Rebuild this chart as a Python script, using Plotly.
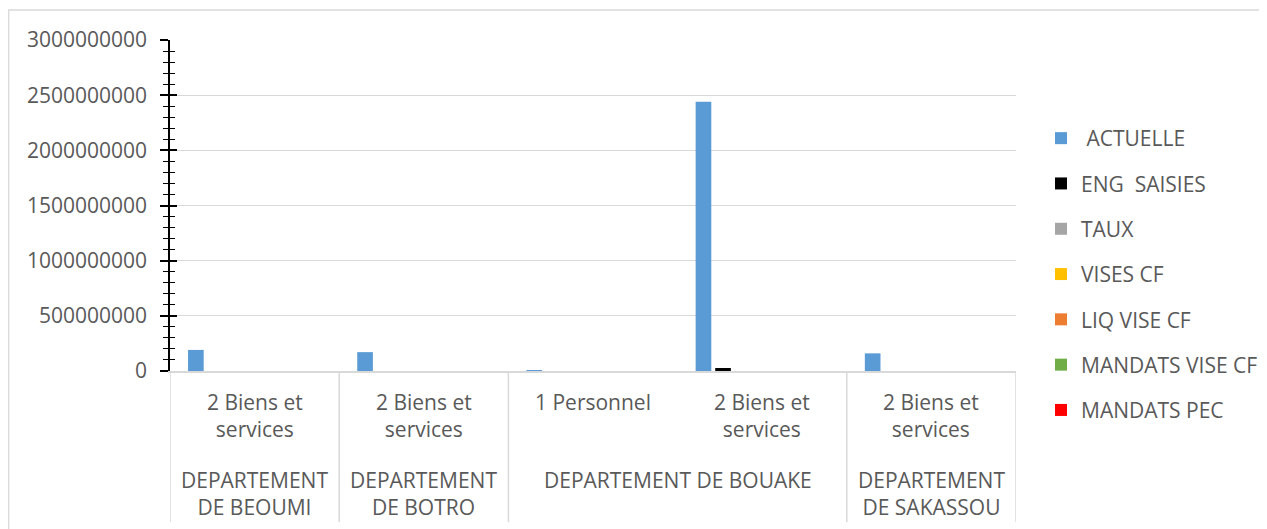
import plotly.graph_objects as go

# ---------------- data ----------------
nature_labels = ["2 Biens et<br>services", "2 Biens et<br>services", "1 Personnel",
                 "2 Biens et<br>services", "2 Biens et<br>services"]
dept_labels = ["DEPARTEMENT<br>DE BEOUMI", "DEPARTEMENT<br>DE BOTRO",
               "DEPARTEMENT DE BOUAKE", "DEPARTEMENT<br>DE SAKASSOU"]
dept_spans = [(0, 0), (1, 1), (2, 3), (4, 4)]  # category index range of each department

series_names = [" ACTUELLE", "ENG  SAISIES", "TAUX", "VISES CF", "LIQ VISE CF",
                "MANDATS VISE CF", "MANDATS PEC"]
actuelle = [191000000, 171000000, 9000000, 2441000000, 160000000]
eng_saisies = [0, 0, 0, 27000000, 0]
taux = [0, 0, 0, 0, 0]
vises_cf = [0, 0, 0, 0, 0]
liq_vise_cf = [0, 0, 0, 0, 0]
mandats_vise_cf = [0, 0, 0, 0, 0]
mandats_pec = [0, 0, 0, 0, 0]
series_values = [actuelle, eng_saisies, taux, vises_cf, liq_vise_cf, mandats_vise_cf, mandats_pec]
colors = ["#5B9BD5", "#000000", "#A5A5A5", "#FFC000", "#ED7D31", "#70AD47", "#FF0000"]

y_max = 3000000000
y_major = 500000000
y_minor = 100000000

# ---------------- figure ----------------
W, H = 1267, 529
OFF = 8                      # page body margin in the browser
L, R, T, B = 170, 1016, 40, 371   # plot area in screen pixels
FONT = "Open Sans"
FS = 21
TXT = "#595959"
GRID = "#D9D9D9"

def px_x(px):
    return (px - L) / (R - L)

def px_y(py):
    return (B - py) / (B - T)

cats = list(range(len(nature_labels)))
fig = go.Figure()
for i, (name, vals, col) in enumerate(zip(series_names, series_values, colors)):
    fig.add_trace(go.Bar(x=cats, y=vals, name=name, marker=dict(color=col, line_width=0),
                         legendgroup=f"g{i}"))

fig.update_layout(
    width=W - OFF, height=H - OFF,
    margin=dict(l=L - OFF, r=W - R, t=T - OFF, b=H - B, pad=0, autoexpand=False),
    paper_bgcolor="white", plot_bgcolor="white",
    barmode="group", bargap=0.19, bargroupgap=0.2,
    font=dict(family=FONT, size=FS, color=TXT),
    showlegend=True,
    legend=dict(x=px_x(1041), y=px_y(118), xanchor="left", yanchor="top",
                font=dict(family=FONT, size=FS, color=TXT),
                tracegroupgap=15, bgcolor="rgba(0,0,0,0)", traceorder="grouped"),
    xaxis=dict(range=[-0.5, len(cats) - 0.5], showticklabels=False, ticks="",
               showgrid=False, zeroline=False, showline=True, linecolor=GRID, linewidth=1.5,
               fixedrange=True),
    yaxis=dict(range=[0, y_max], dtick=y_major, tick0=0, showgrid=True, gridcolor=GRID,
               gridwidth=1.3, zeroline=False, showline=True, linecolor="black", linewidth=1.6,
               ticks="outside", ticklen=8, tickwidth=1.5, tickcolor="black",
               tickformat="d", ticklabelstandoff=9,
               tickfont=dict(family=FONT, size=FS, color=TXT),
               minor=dict(dtick=y_minor, ticks="outside", ticklen=5, tickwidth=1.3,
                          tickcolor="black", showgrid=False)),
    yaxis2=dict(range=[0, y_max], overlaying="y", side="left", dtick=y_major, tick0=0,
                showgrid=False, zeroline=False, showline=False, showticklabels=False,
                ticks="inside", ticklen=7, tickwidth=1.5, tickcolor="black",
                minor=dict(dtick=y_minor, ticks="inside", ticklen=5, tickwidth=1.3,
                           tickcolor="black", showgrid=False)),
)

# empty trace so that the overlay axis (crossing ticks) is drawn
fig.add_trace(go.Scatter(x=[], y=[], yaxis="y2", showlegend=False, hoverinfo="skip"))

shapes = []
# outer chart frame (partly cut by the window)
shapes.append(dict(type="rect", xref="paper", yref="paper", x0=px_x(8.7), x1=px_x(1300),
                   y0=px_y(560), y1=px_y(10), line=dict(color=GRID, width=1.3), layer="below"))
# department dividers
bounds = [-0.5] + [s[1] + 0.5 for s in dept_spans]
for b in bounds:
    shapes.append(dict(type="line", xref="x", yref="paper", x0=b, x1=b,
                       y0=0, y1=px_y(522), line=dict(color=GRID, width=1.5)))
fig.update_layout(shapes=shapes)

annotations = []
for i, lab in enumerate(nature_labels):
    annotations.append(dict(x=i, xref="x", y=px_y(386), yref="paper", text=lab,
                            showarrow=False, xanchor="center", yanchor="top",
                            font=dict(family=FONT, size=FS, color=TXT)))
for lab, (a, b) in zip(dept_labels, dept_spans):
    annotations.append(dict(x=(a + b) / 2, xref="x", y=px_y(464), yref="paper", text=lab,
                            showarrow=False, xanchor="center", yanchor="top",
                            font=dict(family=FONT, size=FS, color=TXT)))
fig.update_layout(annotations=annotations)

fig.write_html("out.html")
